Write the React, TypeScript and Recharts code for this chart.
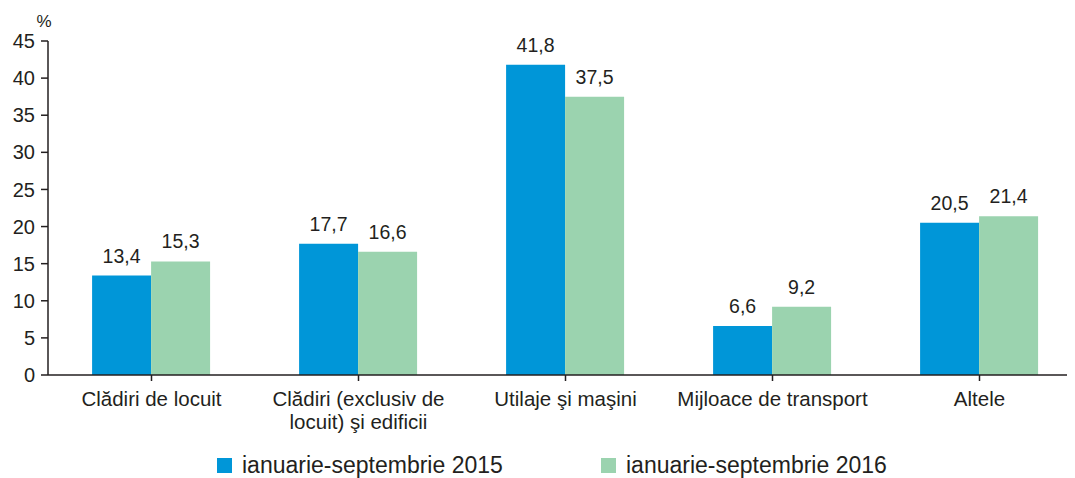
import React from "react";
import { BarChart, Bar, XAxis, YAxis, Legend, LabelList } from "recharts";

const categories = [
  "Clădiri de locuit",
  "Clădiri (exclusiv de locuit) şi edificii",
  "Utilaje şi maşini",
  "Mijloace de transport",
  "Altele",
];
const tickLines: string[][] = [
  ["Clădiri de locuit"],
  ["Clădiri (exclusiv de", "locuit) şi edificii"],
  ["Utilaje şi maşini"],
  ["Mijloace de transport"],
  ["Altele"],
];
const series2015 = [13.4, 17.7, 41.8, 6.6, 20.5];
const series2016 = [15.3, 16.6, 37.5, 9.2, 21.4];
const yTicks = [0, 5, 10, 15, 20, 25, 30, 35, 40, 45];
const seriesNames = ["ianuarie-septembrie 2015", "ianuarie-septembrie 2016"];

const BLUE = "#0096D8";
const GREEN = "#9BD3AF";
const INK = "#231F20";
const FONT = "'Liberation Sans', Arial, sans-serif";

const data = categories.map((c, i) => ({
  name: c,
  v2015: series2015[i],
  v2016: series2016[i],
}));

const fmt = (v: any) => Number(v).toFixed(1).replace(".", ",");

const CatTick = (props: any) => {
  const { x, y, payload } = props;
  const lines = tickLines[payload.index] || [String(payload.value)];
  return (
    <text x={x} y={y} textAnchor="middle" fill={INK} fontSize={20.5} fontFamily={FONT}>
      {lines.map((l, i) => (
        <tspan key={i} x={x} dy={i === 0 ? 23 : 23}>
          {l}
        </tspan>
      ))}
    </text>
  );
};

const LegendContent = () => {
  const colors = [BLUE, GREEN];
  const lefts = [209, 593];
  return (
    <div style={{ position: "relative", width: "100%", height: 26 }}>
      {seriesNames.map((n, i) => (
        <div
          key={n}
          style={{
            position: "absolute",
            left: lefts[i],
            top: 0,
            display: "flex",
            alignItems: "center",
            whiteSpace: "nowrap",
            fontFamily: FONT,
            fontSize: 23,
            color: INK,
          }}
        >
          <span style={{ display: "inline-block", width: 15, height: 15, background: colors[i], marginRight: 10 }} />
          <span>{n}</span>
        </div>
      ))}
    </div>
  );
};

const PercentLabel = (props: any) => {
  const vb = props.viewBox || {};
  return (
    <text x={(vb.x || 0) + (vb.width || 0) - 4} y={(vb.y || 0) - 14} textAnchor="middle" fill={INK} fontSize={17} fontFamily={FONT}>
      %
    </text>
  );
};

export default function App() {
  return (
    <div style={{ width: 1067, height: 470, overflow: "hidden", position: "relative" }}>
      <BarChart
        width={1080}
        height={470}
        data={data}
        margin={{ top: 33, right: 5, bottom: 0, left: 0 }}
        barCategoryGap="21.3%"
        barGap={0}
      >
        <XAxis
          dataKey="name"
          interval={0}
          tick={<CatTick />}
          tickSize={6}
          tickLine={{ stroke: INK, strokeWidth: 1.5 }}
          axisLine={{ stroke: INK, strokeWidth: 1.5 }}
          height={77}
        />
        <YAxis
          domain={[0, 45]}
          ticks={yTicks}
          interval={0}
          width={40}
          tickSize={7}
          tickMargin={6}
          tick={{ fill: INK, fontSize: 20, fontFamily: FONT }}
          tickLine={{ stroke: INK, strokeWidth: 1.5 }}
          axisLine={{ stroke: INK, strokeWidth: 1.5 }}
          label={{ content: <PercentLabel /> } as any}
        />
        <Legend verticalAlign="bottom" content={<LegendContent />} wrapperStyle={{ left: 0, width: 1067, bottom: 0 }} />
        <Bar dataKey="v2015" name={seriesNames[0]} fill={BLUE} isAnimationActive={false}>
          <LabelList dataKey="v2015" position="top" offset={13} formatter={fmt} fill={INK} fontSize={19.5} fontFamily={FONT} />
        </Bar>
        <Bar dataKey="v2016" name={seriesNames[1]} fill={GREEN} isAnimationActive={false}>
          <LabelList dataKey="v2016" position="top" offset={13} formatter={fmt} fill={INK} fontSize={19.5} fontFamily={FONT} />
        </Bar>
      </BarChart>
    </div>
  );
}
